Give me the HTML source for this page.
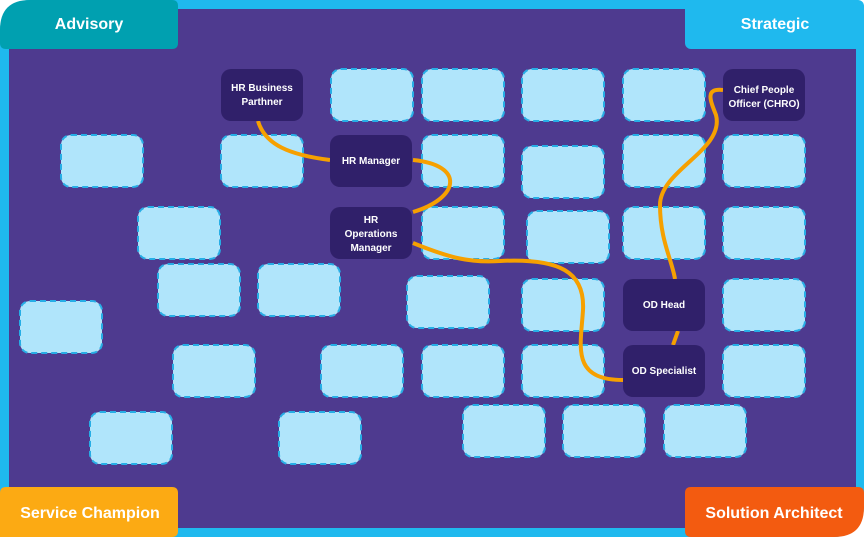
<!DOCTYPE html>
<html><head><style>
body{margin:0;width:864px;height:537px;overflow:hidden;background:#fff;font-family:"Liberation Sans",sans-serif}
svg{display:block}
</style></head><body>
<svg width="864" height="537" viewBox="0 0 864 537">
<rect x="0" y="0" width="864" height="537" rx="30" fill="#1fb9ee"/>
<rect x="9" y="9" width="847" height="519" fill="#4e3a8f"/>
<g fill="#b0e5fb" stroke="#27aee6" stroke-width="2" stroke-dasharray="6,4">
<rect x="331" y="69" width="82" height="52" rx="10"/>
<rect x="422" y="69" width="82" height="52" rx="10"/>
<rect x="522" y="69" width="82" height="52" rx="10"/>
<rect x="623" y="69" width="82" height="52" rx="10"/>
<rect x="61" y="135" width="82" height="52" rx="10"/>
<rect x="221" y="135" width="82" height="52" rx="10"/>
<rect x="422" y="135" width="82" height="52" rx="10"/>
<rect x="522" y="146" width="82" height="52" rx="10"/>
<rect x="623" y="135" width="82" height="52" rx="10"/>
<rect x="723" y="135" width="82" height="52" rx="10"/>
<rect x="138" y="207" width="82" height="52" rx="10"/>
<rect x="422" y="207" width="82" height="52" rx="10"/>
<rect x="527" y="211" width="82" height="52" rx="10"/>
<rect x="623" y="207" width="82" height="52" rx="10"/>
<rect x="723" y="207" width="82" height="52" rx="10"/>
<rect x="158" y="264" width="82" height="52" rx="10"/>
<rect x="258" y="264" width="82" height="52" rx="10"/>
<rect x="407" y="276" width="82" height="52" rx="10"/>
<rect x="522" y="279" width="82" height="52" rx="10"/>
<rect x="723" y="279" width="82" height="52" rx="10"/>
<rect x="20" y="301" width="82" height="52" rx="10"/>
<rect x="173" y="345" width="82" height="52" rx="10"/>
<rect x="321" y="345" width="82" height="52" rx="10"/>
<rect x="422" y="345" width="82" height="52" rx="10"/>
<rect x="522" y="345" width="82" height="52" rx="10"/>
<rect x="723" y="345" width="82" height="52" rx="10"/>
<rect x="90" y="412" width="82" height="52" rx="10"/>
<rect x="279" y="412" width="82" height="52" rx="10"/>
<rect x="463" y="405" width="82" height="52" rx="10"/>
<rect x="563" y="405" width="82" height="52" rx="10"/>
<rect x="664" y="405" width="82" height="52" rx="10"/>
</g>
<g fill="none" stroke="#f6a000" stroke-width="4">
<path d="M258,121 C265,145 290,155 330,160"/>
<path d="M413,160 C465,165 460,198 413,212"/>
<path d="M413,243 C450,258 470,263 500,261 C560,258 585,272 583,310 C581,345 570,380 623,380"/>
<path d="M723,90 C705,88 710,100 716,115 C725,150 660,170 660,205 C660,240 672,260 675,279"/>
<path d="M678,331 L673,345"/>
</g>
<g fill="#30206a">
<rect x="221" y="69" width="82" height="52" rx="10"/>
<rect x="723" y="69" width="82" height="52" rx="10"/>
<rect x="330" y="135" width="82" height="52" rx="10"/>
<rect x="330" y="207" width="82" height="52" rx="10"/>
<rect x="623" y="279" width="82" height="52" rx="10"/>
<rect x="623" y="345" width="82" height="52" rx="10"/>
</g>
<g fill="#fff" font-size="10" font-weight="bold" text-anchor="middle">
<text x="262" y="91">HR Business</text><text x="262" y="105">Parthner</text>
<text x="764" y="93">Chief People</text><text x="764" y="107">Officer (CHRO)</text>
<text x="371" y="164">HR Manager</text>
<text x="371" y="223">HR</text><text x="371" y="237">Operations</text><text x="371" y="251">Manager</text>
<text x="664" y="308">OD Head</text>
<text x="664" y="374">OD Specialist</text>
</g>
<path d="M0,30 Q0,0 30,0 H172 Q178,0 178,6 V43 Q178,49 172,49 H6 Q0,49 0,43 Z" fill="#00a0b0"/>
<rect x="685" y="0" width="179" height="49" rx="6" fill="#1fb9ee"/>
<path d="M0,493 Q0,487 6,487 H172 Q178,487 178,493 V531 Q178,537 172,537 H0 Z" fill="#fcaa13"/>
<path d="M685,493 Q685,487 691,487 H858 Q864,487 864,493 V507 Q864,537 834,537 H691 Q685,537 685,531 Z" fill="#f35b10"/>
<g fill="#fff" font-size="16" font-weight="bold" text-anchor="middle">
<text x="89" y="29">Advisory</text>
<text x="775" y="29">Strategic</text>
<text x="90" y="518">Service Champion</text>
<text x="774" y="518">Solution Architect</text>
</g>
</svg>
</body></html>
